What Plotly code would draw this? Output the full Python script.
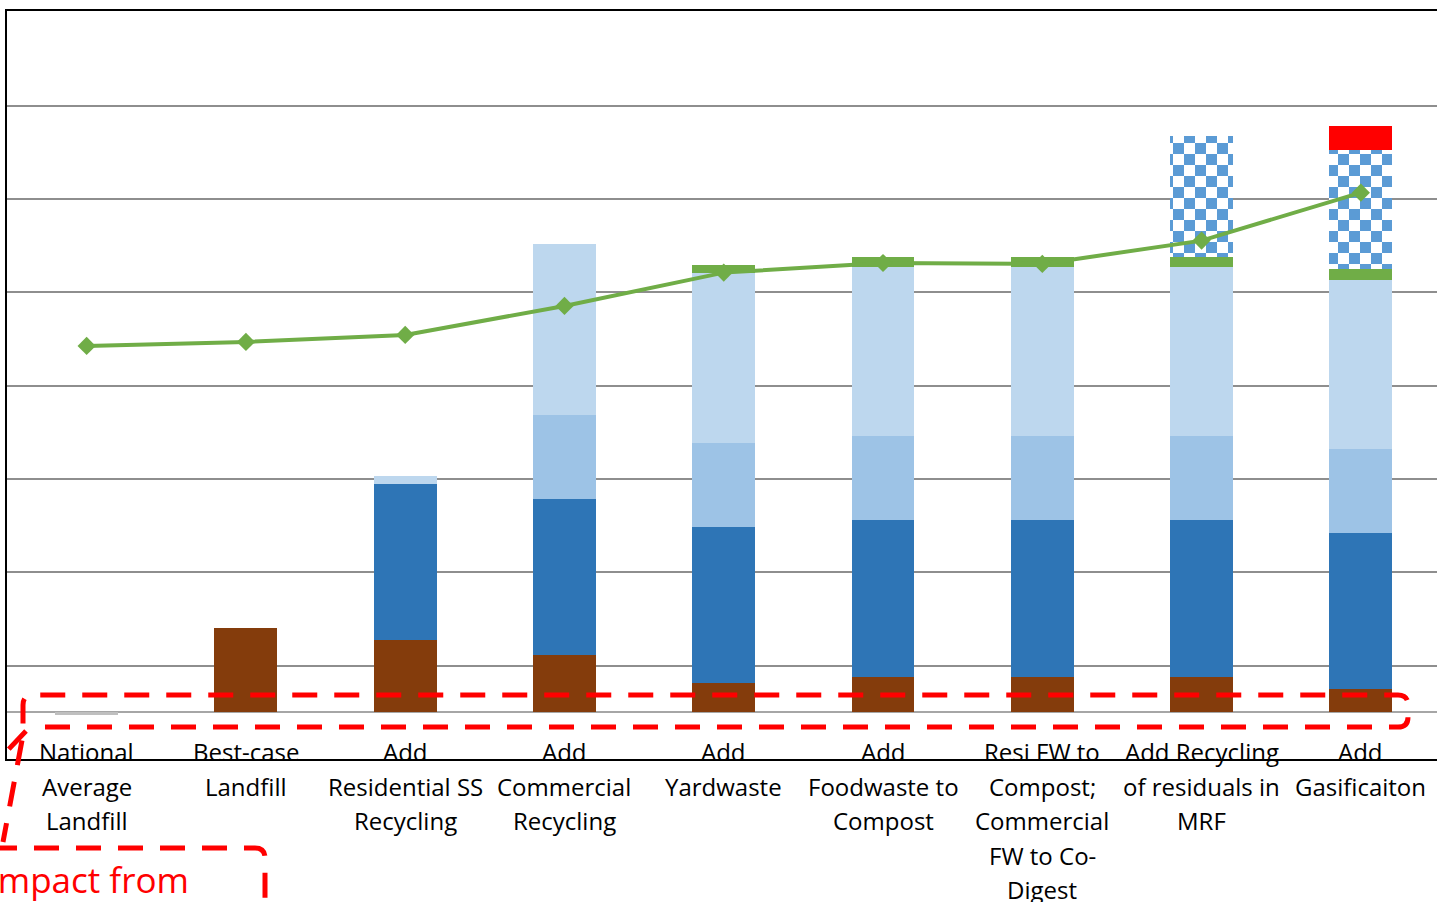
import plotly.graph_objects as go

# ---------------- data ----------------
categories = [
    "National Average Landfill",
    "Best-case Landfill",
    "Add Residential SS Recycling",
    "Add Commercial Recycling",
    "Add Yardwaste",
    "Add Foodwaste to Compost",
    "Resi FW to Compost; Commercial FW to Co-Digest",
    "Add Recycling of residuals in MRF",
    "Add Gasificaiton",
]
label_lines = [
    ["National", "Average", "Landfill"],
    ["Best-case", "Landfill"],
    ["Add", "Residential SS", "Recycling"],
    ["Add", "Commercial", "Recycling"],
    ["Add", "Yardwaste"],
    ["Add", "Foodwaste to", "Compost"],
    ["Resi FW to", "Compost;", "Commercial", "FW to Co-", "Digest"],
    ["Add Recycling", "of residuals in", "MRF"],
    ["Add", "Gasificaiton"],
]

other_base   = [-0.03, None, None, None, None, None, None, None, None]
landfill     = [None, 0.905, 0.776, 0.615, 0.315, 0.380, 0.380, 0.380, 0.251]
resi_recycle = [None, None, 1.672, 1.672, 1.672, 1.680, 1.680, 1.680, 1.672]
comm_recycle = [None, None, None, 0.900, 0.900, 0.900, 0.900, 0.900, 0.900]
light_blue   = [None, None, 0.086, 1.833, 1.822, 1.810, 1.810, 1.810, 1.812]
green_seg    = [None, None, None, None, 0.086, 0.107, 0.107, 0.107, 0.118]
mrf_checker  = [None, None, None, None, None, None, None, 1.302, 1.274]
gasif_red    = [None, None, None, None, None, None, None, None, 0.257]
total_line   = [3.927, 3.970, 4.045, 4.356, 4.713, 4.816, 4.806, 5.056, 5.570]

callout_text = "Impact from"

# ---------------- layout helpers ----------------
W, H = 1437, 902
L, R, T, B = 7, 0, 11, 143
PW, PH = W - L - R, H - T - B


def px2x(px):
    return (px - L) / PW


def px2y(py):
    return (H - B - py) / PH


fig = go.Figure()

BW = 0.395
seg_specs = [
    (other_base, "#BFBFBF", None),
    (landfill, "#843C0C", None),
    (resi_recycle, "#2E75B6", None),
    (comm_recycle, "#9DC3E6", None),
    (light_blue, "#BDD7EE", None),
    (green_seg, "#70AD47", None),
    (mrf_checker, "#FFFFFF",
     dict(shape="x", fgcolor="#5B9BD5", bgcolor="#FFFFFF", size=22, solidity=0.5)),
    (gasif_red, "#FF0000", None),
]
for vals, col, pat in seg_specs:
    marker = dict(color=col, line=dict(width=0))
    if pat is not None:
        marker["pattern"] = pat
    fig.add_trace(go.Bar(x=categories, y=vals, width=BW, marker=marker,
                         showlegend=False, hoverinfo="skip"))

fig.add_trace(go.Scatter(
    x=categories, y=total_line, mode="lines+markers",
    line=dict(color="#70AD47", width=4),
    marker=dict(symbol="diamond", size=14, color="#70AD47"),
    showlegend=False, hoverinfo="skip"))

# x labels (one annotation per line to match the line spacing)
line_y = [751, 786, 820, 855, 889]
annotations = []
for cat, lines in zip(categories, label_lines):
    for i, txt in enumerate(lines):
        annotations.append(dict(
            x=cat, xref="x", y=px2y(line_y[i]), yref="paper",
            text=txt, showarrow=False, xanchor="center", yanchor="middle",
            font=dict(family="Open Sans", size=24, color="#000000")))

annotations.append(dict(
    x=px2x(191), xref="paper", y=px2y(879), yref="paper",
    text=callout_text, showarrow=False, xanchor="right", yanchor="middle",
    font=dict(family="Open Sans", size=35, color="#FF0000")))


def path(points):
    out = []
    for cmd, pts in points:
        coords = " ".join(f"{px2x(a):.5f},{px2y(b):.5f}" for a, b in pts)
        out.append(f"{cmd} {coords}")
    return " ".join(out)


red_line = dict(color="#FF0000", width=5, dash="25px,17px")
shapes = [
    dict(type="path", xref="paper", yref="paper", layer="above", line=red_line,
         path=path([("M", [(45, 727)]), ("L", [(1398, 727)]),
                    ("Q", [(1408, 727), (1408, 717)]), ("L", [(1408, 705)]),
                    ("Q", [(1408, 695), (1398, 695)]), ("L", [(33, 695)]),
                    ("Q", [(23, 695), (23, 705)]), ("L", [(23, 735)]),
                    ("L", [(3, 842)])])),
    dict(type="path", xref="paper", yref="paper", layer="above", line=red_line,
         path=path([("M", [(26, 731)]), ("L", [(-30, 790)])])),
    dict(type="path", xref="paper", yref="paper", layer="above", line=red_line,
         path=path([("M", [(-8, 848)]), ("L", [(255, 848)]),
                    ("Q", [(265, 848), (265, 858)]), ("L", [(265, 915)])])),
]

fig.update_layout(
    width=W, height=H,
    margin=dict(l=L, r=R, t=T, b=B, pad=0),
    paper_bgcolor="#FFFFFF", plot_bgcolor="#FFFFFF",
    barmode="relative", bargap=0,
    annotations=annotations, shapes=shapes,
    xaxis=dict(type="category", range=[-0.5, 8.478], showticklabels=False,
               showgrid=False, zeroline=False, ticks="",
               showline=True, linecolor="#000000", linewidth=2, mirror=True,
               fixedrange=True),
    yaxis=dict(range=[-0.5, 7.517], tickvals=[0.5, 1.5, 2.5, 3.5, 4.5, 5.5, 6.5],
               showticklabels=False, ticks="",
               showgrid=True, gridcolor="#8E8E8E", gridwidth=2,
               zeroline=True, zerolinecolor="#A6A6A6", zerolinewidth=2,
               showline=True, linecolor="#000000", linewidth=2, mirror=False,
               fixedrange=True),
)

post = """
var gd = document.getElementById('{plot_id}');
function chk(){
  var ns = 'http://www.w3.org/2000/svg';
  var ps = document.getElementsByTagNameNS(ns, 'pattern');
  for (var k = 0; k < ps.length; k++) {
    var p = ps[k];
    if (p.getAttribute('data-chk')) continue;
    var s = 22, h = 11;
    while (p.firstChild) p.removeChild(p.firstChild);
    p.removeAttribute('viewBox');
    p.removeAttribute('patternTransform');
    p.removeAttribute('patternContentUnits');
    p.setAttribute('patternUnits', 'userSpaceOnUse');
    p.setAttribute('width', s); p.setAttribute('height', s);
    var specs = [[0, 0, s, s, '#FFFFFF'], [0, 0, h, h, '#5B9BD5'], [h, h, h, h, '#5B9BD5']];
    for (var j = 0; j < specs.length; j++) {
      var e = document.createElementNS(ns, 'rect');
      e.setAttribute('x', specs[j][0]); e.setAttribute('y', specs[j][1]);
      e.setAttribute('width', specs[j][2]); e.setAttribute('height', specs[j][3]);
      e.setAttribute('fill', specs[j][4]);
      p.appendChild(e);
    }
    p.setAttribute('data-chk', '1');
  }
}
chk();
setTimeout(chk, 50);
setTimeout(chk, 300);
if (gd && gd.on) { gd.on('plotly_afterplot', chk); }
"""

fig.write_html("out.html", config={"displayModeBar": False}, post_script=post)
